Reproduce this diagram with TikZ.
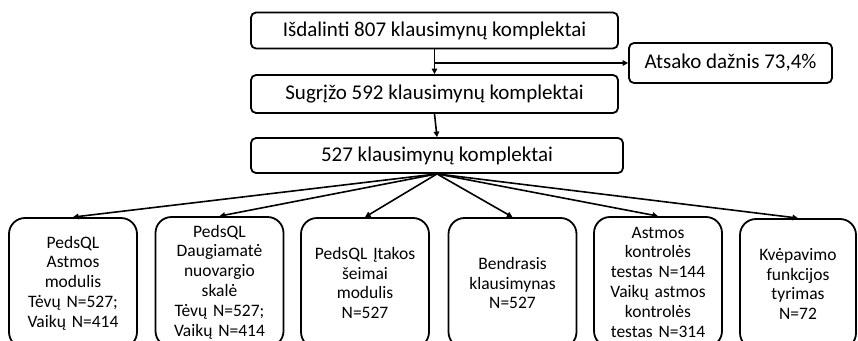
\documentclass[tikz,border=0pt]{standalone}
\usepackage{fontspec}
\setmainfont{Carlito}
\usetikzlibrary{arrows.meta}

\begin{document}
\begin{tikzpicture}[x=1pt, y=-1pt,
    flowbox/.style={draw, line width=1.8pt, rounded corners=5pt, inner sep=0pt,
        minimum height=36pt, font=\fontsize{21}{25}\selectfont},
    groupbox/.style={draw, line width=1.8pt, rounded corners=16pt, inner sep=0pt,
        minimum width=128pt, minimum height=130pt, text width=124pt, align=center,
        font=\fontsize{17.5}{19.8}\selectfont},
    arr/.style={line width=1.6pt, -{Triangle[length=5.5pt, width=5.5pt]}}]
    \useasboundingbox (0, 0) rectangle (858, 340);

    % Questionnaire sets: handed out, returned, analysed
    \node[flowbox, minimum width=367pt] (given) at (434.5, 30.5) {Išdalinti 807 klausimynų komplektai};
    \node[flowbox, minimum width=367pt, minimum height=38pt] (returned) at (434.5, 94) {Sugrįžo 592 klausimynų komplektai};
    \node[flowbox, minimum width=372pt, minimum height=35pt] (used) at (437, 155.5) {527 klausimynų komplektai};

    % Response rate on the side
    \node[flowbox, minimum width=203pt, minimum height=40pt] (rate) at (730.5, 63) {Atsako dažnis 73,4\%};

    \draw[arr] (given.south) -- (returned.north);
    \draw[arr] (given.south |- rate.west) -- (rate.west);
    \draw[arr] (returned.south) -- (used.north);

    % Instruments filled in
    \node[groupbox] (asthma) at (73, 283) {PedsQL\\Astmos\\modulis\\Tėvų N=527;\\Vaikų N=414};
    \node[groupbox] (fatigue) at (219.5, 282) {PedsQL\\Daugiamatė\\nuovargio\\skalė\\Tėvų N=527;\\Vaikų N=414};
    \node[groupbox] (family) at (365, 283) {PedsQL Įtakos\\šeimai\\modulis\\N=527};
    \node[groupbox] (general) at (512.5, 283) {Bendrasis\\klausimynas\\N=527};
    \node[groupbox] (control) at (658, 282) {Astmos\\kontrolės\\testas N=144\\Vaikų astmos\\kontrolės\\testas N=314};
    \node[groupbox, minimum width=116pt, text width=112pt] (lung) at (798, 284) {Kvėpavimo\\funkcijos\\tyrimas\\N=72};

    \foreach \target in {asthma, fatigue, family, general, control, lung}
        \draw[arr] (used.south) -- (\target.north);
\end{tikzpicture}
\end{document}
